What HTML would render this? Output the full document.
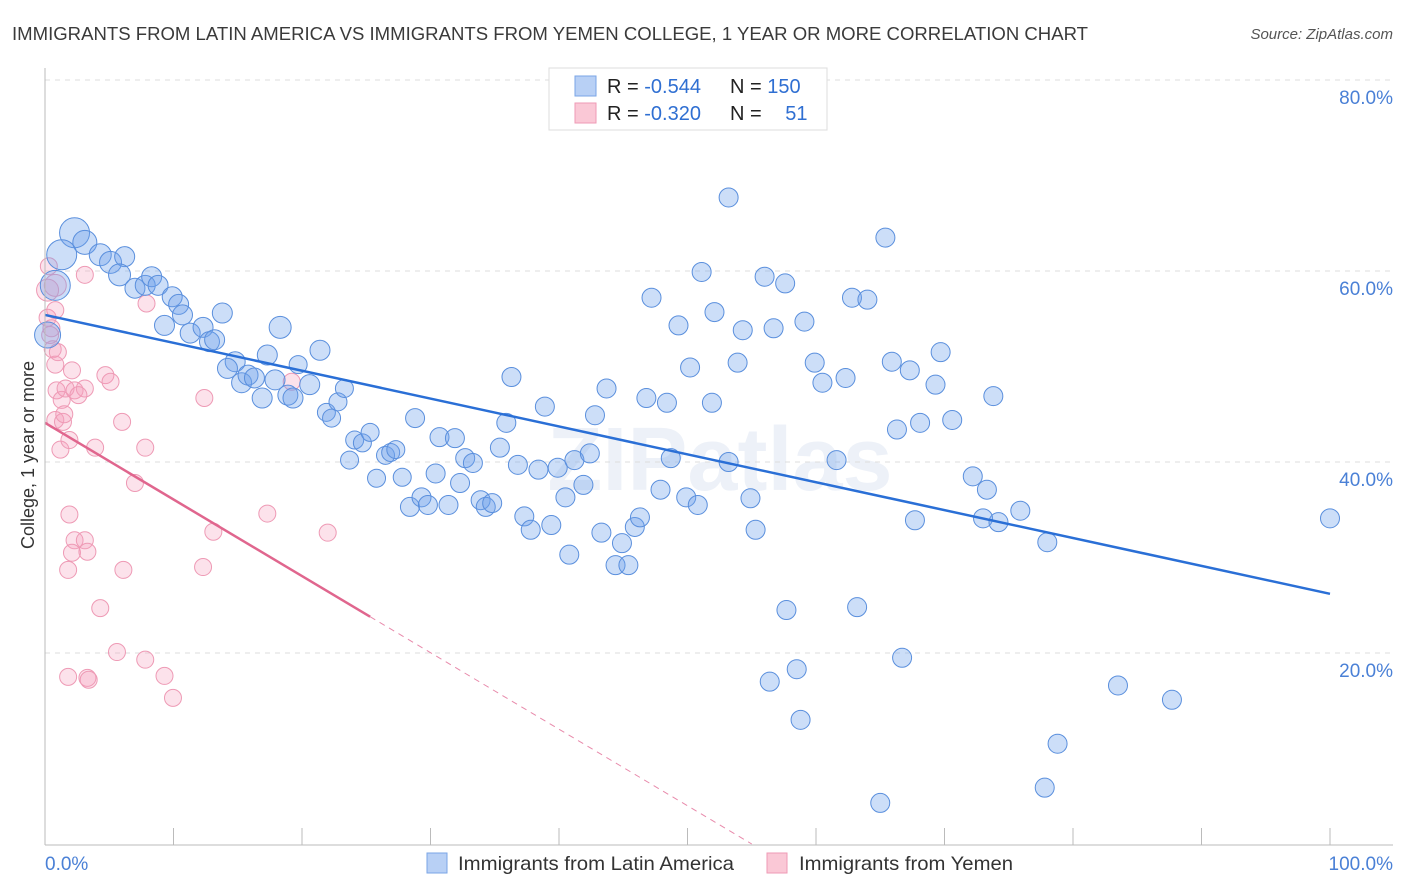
<!DOCTYPE html>
<html><head><meta charset="utf-8"><style>
body{margin:0;background:#fff;font-family:"Liberation Sans",sans-serif}
svg{display:block}
</style></head><body>
<svg id="c" width="1406" height="892" xmlns="http://www.w3.org/2000/svg">
<text x="12" y="40" font-size="18" fill="#3a3a3a" textLength="1076" lengthAdjust="spacingAndGlyphs">IMMIGRANTS FROM LATIN AMERICA VS IMMIGRANTS FROM YEMEN COLLEGE, 1 YEAR OR MORE CORRELATION CHART</text>
<text x="1393" y="39" font-size="15" fill="#555" text-anchor="end" font-style="italic">Source: ZipAtlas.com</text>
<text x="720" y="490" font-size="90" fill="#edf1f8" text-anchor="middle" font-weight="bold">ZIPatlas</text>
<g id="grid"></g><g id="pink"></g><g id="blue"></g><g id="lines"></g><g id="axes"></g>
<text transform="translate(34,455) rotate(-90)" font-size="18" fill="#333" text-anchor="middle">College, 1 year or more</text>
<g>
<rect x="549" y="68" width="278" height="62" fill="#fff" stroke="#ddd"/>
<rect x="575" y="76" width="21" height="20" fill="#b8d0f5" stroke="#7aa5e6"/>
<rect x="575" y="103" width="21" height="20" fill="#fac8d6" stroke="#ef9ab5"/>
<text x="607" y="93" font-size="20" fill="#222">R = <tspan fill="#2f6fd2">-0.544</tspan></text>
<text x="730" y="93" font-size="20" fill="#222">N = <tspan fill="#2f6fd2">150</tspan></text>
<text x="607" y="120" font-size="20" fill="#222">R = <tspan fill="#2f6fd2">-0.320</tspan></text>
<text x="730" y="120" font-size="20" fill="#222">N = <tspan fill="#2f6fd2" dx="18">51</tspan></text>
</g>
<g>
<rect x="427" y="853" width="20" height="20" fill="#b8d0f5" stroke="#7aa5e6"/>
<text x="458" y="870" font-size="19.5" fill="#333" textLength="276" lengthAdjust="spacingAndGlyphs">Immigrants from Latin America</text>
<rect x="767" y="853" width="20" height="20" fill="#fac8d6" stroke="#ef9ab5"/>
<text x="799" y="870" font-size="19.5" fill="#333" textLength="214" lengthAdjust="spacingAndGlyphs">Immigrants from Yemen</text>
</g>
</svg>
<script>
const yTicks=[20,40,60,80];
const yTickLabels=["20.0%","40.0%","60.0%","80.0%"];
const xTicks=[0,10,20,30,40,50,60,70,80,90,100];
const blueX=[2.3,3.1,1.3,0.8,0.2,4.3,5.1,6.2,5.8,7.0,7.8,8.3,8.8,9.9,10.4,10.7,9.3,11.3,12.3,12.8,13.2,13.8,14.8,14.2,15.3,15.8,16.3,16.9,17.3,18.3,17.9,18.9,19.3,19.7,20.6,21.4,21.9,22.3,22.8,23.3,23.7,24.1,24.7,25.3,25.8,26.5,26.9,27.3,27.8,28.4,28.8,29.3,29.8,30.4,30.7,31.4,31.9,32.3,32.7,33.3,33.9,34.3,34.8,35.4,35.9,36.3,36.8,37.3,37.8,38.4,38.9,39.4,39.9,40.5,40.8,41.2,41.9,42.4,42.8,43.3,43.7,44.4,44.9,45.4,45.9,46.3,46.8,47.2,47.9,48.4,48.7,49.3,49.9,50.2,50.8,51.1,51.9,52.1,53.2,53.2,53.9,54.3,54.9,55.3,56.0,56.7,57.6,57.7,56.4,58.5,58.8,59.1,59.9,60.5,61.6,62.3,62.8,63.2,64.0,65.0,65.4,65.9,66.3,66.7,67.3,67.7,68.1,69.3,69.7,70.6,72.2,73.0,73.3,74.2,73.8,75.9,78.0,77.8,78.8,83.5,87.7,100];
const blueY=[64.0,63.0,61.7,58.5,53.3,61.7,60.9,61.5,59.6,58.2,58.5,59.4,58.5,57.3,56.5,55.4,54.3,53.5,54.1,52.6,52.8,55.6,50.5,49.8,48.3,49.1,48.8,46.7,51.2,54.1,48.6,47.0,46.7,50.2,48.1,51.7,45.2,44.6,46.3,47.7,40.2,42.3,42.0,43.1,38.3,40.7,41.0,41.3,38.4,35.3,44.6,36.3,35.5,38.8,42.6,35.5,42.5,37.8,40.4,39.9,36.0,35.3,35.7,41.5,44.1,48.9,39.7,34.3,32.9,39.2,45.8,33.4,39.4,36.3,30.3,40.2,37.6,40.9,44.9,32.6,47.7,29.2,31.5,29.2,33.2,34.2,46.7,57.2,37.1,46.2,40.4,54.3,36.3,49.9,35.5,59.9,46.2,55.7,40.0,67.7,50.4,53.8,36.2,32.9,59.4,54.0,58.7,24.5,17.0,18.3,13.0,54.7,50.4,48.3,40.2,48.8,57.2,24.8,57.0,4.3,63.5,50.5,43.4,19.5,49.6,33.9,44.1,48.1,51.5,44.4,38.5,34.1,37.1,33.7,46.9,34.9,31.6,5.9,10.5,16.6,15.1,34.1];
const blueR=[15,12,15,15,13,11,11,10,11,10,10,10,10,10,10,10,10,10,10,10,10,10,10,10,10,10,10,10,10,11,10,10,10,9,10,10,9,9,9,9,9,9,9,9,9,9,9,9,9];
const pinkX=[0.2,0.4,0.6,0.2,0.8,0.8,1.0,3.1,0.9,1.3,1.6,2.1,2.3,3.1,0.8,1.4,1.2,1.9,3.9,4.7,5.1,6.0,7.0,7.8,7.9,12.4,1.9,2.3,3.1,2.1,3.3,1.8,6.1,4.3,5.6,7.8,1.8,3.3,3.4,9.3,9.96,13.1,12.3,17.3,19.2,22.0,0.8,0.5,1.5,2.6,0.3];
const pinkY=[58.0,53.3,51.8,55.1,55.9,50.2,51.5,59.6,47.5,46.5,47.7,49.6,47.5,47.7,44.4,44.2,41.3,42.3,41.5,49.1,48.4,44.2,37.8,41.5,56.6,46.7,34.5,31.8,31.8,30.5,30.6,28.7,28.7,24.7,20.1,19.3,17.5,17.4,17.2,17.6,15.3,32.7,29.0,34.6,48.4,32.6,58.5,54.0,45.0,47.0,60.5];
const X=v=>45+v*12.85, Y=v=>844-v*9.55;
const NS="http://www.w3.org/2000/svg";
function mk(t,a,p){const e=document.createElementNS(NS,t);for(const k in a)e.setAttribute(k,a[k]);p.appendChild(e);return e;}
const grid=document.getElementById('grid'),axes=document.getElementById('axes');
yTicks.forEach((t,i)=>{
 const l=mk('line',{x1:45,x2:1393,y1:Y(t),y2:Y(t),stroke:'#ddd','stroke-dasharray':'5,5'},grid);
 
 
 const tx=mk('text',{x:1393,y:Y(t)+24,'font-size':19,fill:'#4a80d6','text-anchor':'end'},axes);
 tx.textContent=yTickLabels[i];
 
 
});
mk('line',{x1:45,x2:45,y1:68,y2:845,stroke:'#bbb'},axes);
mk('line',{x1:45,x2:1393,y1:845,y2:845,stroke:'#bbb'},axes);
xTicks.forEach(t=>{const l=mk('line',{x1:X(t),x2:X(t),y1:828,y2:845,stroke:'#bbb'},axes);
 
 });
let a=mk('text',{x:45,y:870,'font-size':19,fill:'#4a80d6'},axes);a.textContent='0.0%';


a=mk('text',{x:1393,y:870,'font-size':19,fill:'#4a80d6','text-anchor':'end'},axes);a.textContent='100.0%';


const pg=document.getElementById('pink');
pinkX.forEach((x,i)=>{const c=mk('circle',{cx:X(x),cy:Y(pinkY[i]),r:i==0||i==46?11:8.5,fill:'rgba(245,160,190,0.3)',stroke:'#ee9ab5','stroke-width':1},pg);
 
 });
const bg=document.getElementById('blue');
blueX.forEach((x,i)=>{const c=mk('circle',{cx:X(x),cy:Y(blueY[i]),r:blueR[i]||9.5,fill:'rgba(110,160,235,0.35)',stroke:'#5a8fdd','stroke-width':1},bg);
 
 });
const lg=document.getElementById('lines');
let ln=mk('line',{x1:X(0),y1:Y(55.4),x2:X(100),y2:Y(26.2),stroke:'#2a6fd6','stroke-width':2.5},lg);


ln=mk('line',{x1:X(0),y1:Y(44.1),x2:X(25.3),y2:Y(23.8),stroke:'#e0668e','stroke-width':2.5},lg);


ln=mk('line',{x1:X(25.3),y1:Y(23.8),x2:X(55),y2:Y(0),stroke:'#e88aab','stroke-width':1,'stroke-dasharray':'6,5'},lg);


</script>
</body></html>
